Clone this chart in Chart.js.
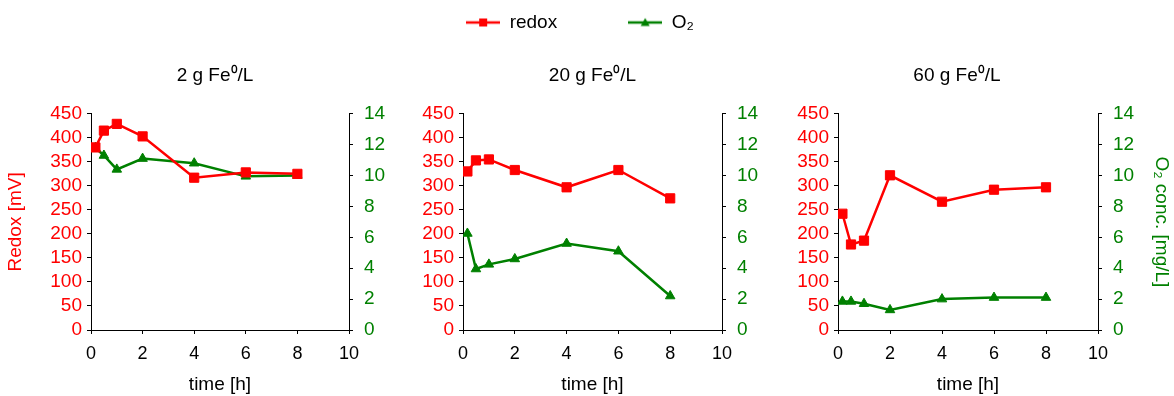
<!DOCTYPE html>
<html>
<head>
<meta charset="utf-8">
<script src="https://cdn.jsdelivr.net/npm/chart.js@4.4.1/dist/chart.umd.min.js"></script>
<style>
  body { margin: 0; background: #fff; width: 1174px; height: 396px; overflow: hidden; position: relative; }
  canvas { position: absolute; }
</style>
</head>
<body>
<canvas id="c1" width="430" height="354" style="left:0;top:42px"></canvas>
<canvas id="c2" width="380" height="454" style="left:390px;top:-58px"></canvas>
<canvas id="c3" width="434" height="354" style="left:740px;top:42px"></canvas>
<script>
// sampling times [h]
const timeH = [0.17, 0.5, 1, 2, 4, 6, 8];

// 2 g Fe0/L
const redox2 = [380, 415, 429, 403, 317, 328, 325];
const o2_2 = [11.8, 11.3, 10.4, 11.1, 10.8, 9.95, 10.0];
// 20 g Fe0/L
const redox20 = [330, 353, 355, 333, 297, 333, 274];
const o2_20 = [6.25, 3.95, 4.25, 4.6, 5.6, 5.1, 2.2];
// 60 g Fe0/L
const redox60 = [242, 178, 186, 322, 267, 292, 297];
const o2_60 = [1.85, 1.85, 1.7, 1.3, 2.0, 2.1, 2.1];

const xTicks = [0, 2, 4, 6, 8, 10];
const RED = '#ff0000';
const GREEN = '#008000';

Chart.defaults.font.family = "'Liberation Sans', Arial, Helvetica, sans-serif";
Chart.defaults.color = '#000';

function legendIcon(color, shape) {
  const c = document.createElement('canvas');
  c.width = 34; c.height = 12;
  const g = c.getContext('2d');
  g.strokeStyle = color; g.fillStyle = color; g.lineWidth = 2.5;
  g.beginPath(); g.moveTo(0, 6); g.lineTo(34, 6); g.stroke();
  if (shape === 'rect') {
    g.fillRect(13, 2, 8, 8);
  } else {
    g.beginPath(); g.moveTo(17, 1.5); g.lineTo(21.5, 9.5); g.lineTo(12.5, 9.5); g.closePath(); g.fill();
  }
  return c;
}
const icons = [legendIcon(RED, 'rect'), legendIcon(GREEN, 'tri')];

function makeChart(id, title, redox, o2, o) {
  const pts = (arr) => arr.map((v, i) => ({ x: timeH[i], y: v }));
  return new Chart(document.getElementById(id), {
    type: 'line',
    data: {
      datasets: [{
        label: 'redox',
        data: pts(redox),
        yAxisID: 'y',
        borderColor: RED, backgroundColor: RED,
        borderWidth: 2.5,
        pointStyle: 'rect', pointRadius: 6.5, pointBorderWidth: 1,
      }, {
        label: 'O\u2082',
        data: pts(o2),
        yAxisID: 'y2',
        borderColor: GREEN, backgroundColor: GREEN,
        borderWidth: 2.5,
        pointStyle: 'triangle', pointRadius: 5.5, pointBorderWidth: 1,
      }]
    },
    options: {
      responsive: false,
      animation: false,
      layout: { padding: 0 },
      plugins: {
        tooltip: { enabled: false },
        legend: {
          display: !!o.legend,
          weight: 3000,
          labels: {
            font: { size: 19 },
            color: '#000',
            padding: 71,
            usePointStyle: true,
            pointStyleWidth: 34,
            generateLabels: (chart) => Chart.defaults.plugins.legend.labels.generateLabels(chart)
              .map((it, i) => Object.assign(it, { pointStyle: icons[i] }))
          }
        },
        title: {
          display: true,
          text: title,
          fullSize: o.titleFull !== false,
          color: '#000',
          font: { size: 19, weight: 'normal' },
          padding: { top: 22, bottom: 27 }
        }
      },
      scales: {
        x: {
          type: 'linear',
          min: 0, max: 10,
          afterBuildTicks: (s) => { s.ticks = xTicks.map(v => ({ value: v })); },
          afterFit: (s) => { s.height = 66; },
          grid: { drawOnChartArea: false, tickLength: 4, color: '#000', tickWidth: 1 },
          border: { color: '#000', width: 1 },
          ticks: { color: '#000', font: { size: 18 }, padding: 9, maxRotation: 0, autoSkip: false },
          title: { display: true, text: 'time [h]', color: '#000', font: { size: 19 }, padding: { top: 0, bottom: 0 } }
        },
        y: {
          position: 'left',
          min: 0, max: 450,
          afterFit: (s) => { s.width = o.leftW; },
          grid: { drawOnChartArea: false, tickLength: 4, color: '#000' },
          border: { color: '#000', width: 1 },
          ticks: { stepSize: 50, color: RED, font: { size: 19 }, padding: 5, autoSkip: false },
          title: { display: !!o.leftTitle, text: 'Redox [mV]', color: RED, font: { size: 19 }, padding: { top: 4, bottom: 0 } }
        },
        y2: {
          position: 'right',
          min: 0, max: 14,
          afterFit: (s) => { s.width = o.rightW; },
          grid: { drawOnChartArea: false, tickLength: 4, color: '#000' },
          border: { color: '#000', width: 1 },
          ticks: { stepSize: 2, color: GREEN, font: { size: 19 }, padding: 11, autoSkip: false },
          title: { display: !!o.rightTitle, text: 'O\u2082 conc. [mg/L]', color: GREEN, font: { size: 19 }, padding: { top: 1, bottom: 0 } }
        }
      }
    }
  });
}

makeChart('c1', '2 g Fe\u2070/L', redox2, o2_2, { leftW: 91, rightW: 81, leftTitle: true });
makeChart('c2', '20 g Fe\u2070/L', redox20, o2_20, { leftW: 73, rightW: 48, legend: true, titleFull: false });
makeChart('c3', '60 g Fe\u2070/L', redox60, o2_60, { leftW: 98, rightW: 76, rightTitle: true });
</script>
</body>
</html>
